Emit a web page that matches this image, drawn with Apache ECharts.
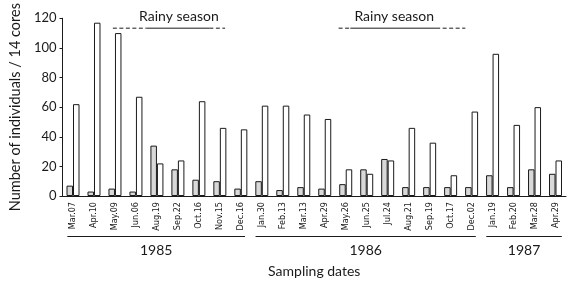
<!DOCTYPE html>
<html>
<head>
<meta charset="utf-8">
<script src="https://cdn.jsdelivr.net/npm/echarts@6/dist/echarts.min.js"></script>
<style>
  html, body { margin: 0; padding: 0; background: #fff; }
  #chart { width: 571px; height: 285px; }
</style>
</head>
<body>
<div id="chart"></div>
<script>
  // sampling dates (x axis)
  const categories = [
    'Mar.07', 'Apr.10', 'May.09', 'Jun.06', 'Aug.19', 'Sep.22', 'Oct.16', 'Nov.15', 'Dec.16',
    'Jan.30', 'Feb.13', 'Mar.13', 'Apr.29', 'May.26', 'Jun.25', 'Jul.24', 'Aug.21', 'Sep.19', 'Oct.17', 'Dec.02',
    'Jan.19', 'Feb.20', 'Mar.28', 'Apr.29'
  ]
  // grey bars
  const greyValues = [7, 3, 5, 3, 34, 18, 11, 10, 5, 10, 4, 6, 5, 8, 18, 25, 6, 6, 6, 6, 14, 6, 18, 15]
  // white bars
  const whiteValues = [62, 117, 110, 67, 22, 24, 64, 46, 45, 61, 61, 55, 52, 18, 15, 24, 46, 36, 14, 57, 96, 48, 60, 24]
  const yTicks = [0, 20, 40, 60, 80, 100, 120]

  // year brackets under the dates, in category units
  const yearLabels = ['1985', '1986', '1987']
  const yearSpans = [[0.23, 8.7], [9.2, 19.7], [20.2, 23.8]]

  // rainy season markers: [dashStart, solidStart, solidEnd, dashEnd]
  const rainySpans = [[2.4, 4.0, 7.0, 7.75], [13.16, 13.72, 17.81, 19.2]]
  const rainyLevel = 113.3

  const chartDom = echarts.init(document.getElementById('chart'))
  const font = 'Lato, "Noto Sans", sans-serif'
  const ink = '#1a1a1a'

  const rainySeries = []
  rainySpans.forEach((s) => {
    const parts = [[s[0], s[1], 'dashed'], [s[1], s[2], 'solid'], [s[2], s[3], 'dashed']]
    parts.forEach((p) => {
      rainySeries.push({
        type: 'line',
        xAxisIndex: 1,
        data: [[p[0], rainyLevel], [p[1], rainyLevel]],
        symbol: 'none',
        silent: true,
        clip: false,
        lineStyle: { color: ink, width: 1, type: p[2] === 'dashed' ? [4, 2.5] : 'solid' },
        z: 5
      })
    })
  })

  chartDom.setOption({
    animation: false,
    grid: { left: 50, right: 5, top: 16, bottom: 89 },
    xAxis: [
      {
        type: 'category',
        data: categories,
        name: 'Sampling dates',
        nameLocation: 'middle',
        nameGap: 68,
        nameTextStyle: { fontFamily: font, fontSize: 14, color: ink },
        axisLine: { lineStyle: { color: ink, width: 1 } },
        axisTick: { length: 4, lineStyle: { color: ink } },
        axisLabel: {
          rotate: 90,
          margin: 6,
          fontSize: 9,
          fontFamily: '"Liberation Sans Narrow", "DejaVu Sans Condensed", sans-serif',
          color: ink,
          interval: 0
        }
      },
      { type: 'value', min: 0, max: categories.length, show: false }
    ],
    yAxis: {
      type: 'value',
      min: 0,
      max: 120,
      interval: 20,
      name: 'Number of individuals / 14 cores',
      nameLocation: 'middle',
      nameGap: 39,
      nameTextStyle: { fontFamily: font, fontSize: 14.5, color: ink },
      axisLine: { show: true, lineStyle: { color: ink, width: 1 } },
      axisTick: { show: true, length: 3, lineStyle: { color: ink } },
      axisLabel: {
        fontFamily: font,
        fontSize: 13,
        color: ink,
        margin: 6,
        formatter: (v) => (yTicks.includes(v) ? String(v) : '')
      },
      splitLine: { show: false }
    },
    series: [
      {
        type: 'bar',
        data: greyValues,
        barWidth: 6.5,
        barGap: '0%',
        itemStyle: { color: '#d9d9d9', borderColor: ink, borderWidth: 1 }
      },
      {
        type: 'bar',
        data: whiteValues,
        barWidth: 6.5,
        itemStyle: { color: '#ffffff', borderColor: ink, borderWidth: 1 }
      },
      ...rainySeries
    ]
  })

  // year brackets and rainy season titles
  const px = (v) => chartDom.convertToPixel({ xAxisIndex: 1 }, v)
  const py = (v) => chartDom.convertToPixel({ yAxisIndex: 0 }, v)
  const graphics = []
  yearSpans.forEach((s, i) => {
    const x1 = px(s[0])
    const x2 = px(s[1])
    graphics.push({
      type: 'line',
      shape: { x1: x1, y1: 236.5, x2: x2, y2: 236.5 },
      style: { stroke: ink, lineWidth: 1 }
    })
    graphics.push({
      type: 'text',
      x: (x1 + x2) / 2,
      y: 250,
      style: { text: yearLabels[i], font: '14px ' + font, fill: ink, align: 'center', verticalAlign: 'middle' }
    })
  })
  rainySpans.forEach((s) => {
    graphics.push({
      type: 'text',
      x: (px(s[1]) + px(s[2])) / 2 + 1,
      y: py(rainyLevel) - 12,
      style: { text: 'Rainy season', font: '14px ' + font, fill: ink, align: 'center', verticalAlign: 'middle' }
    })
  })
  chartDom.setOption({ graphic: graphics })
</script>
</body>
</html>
